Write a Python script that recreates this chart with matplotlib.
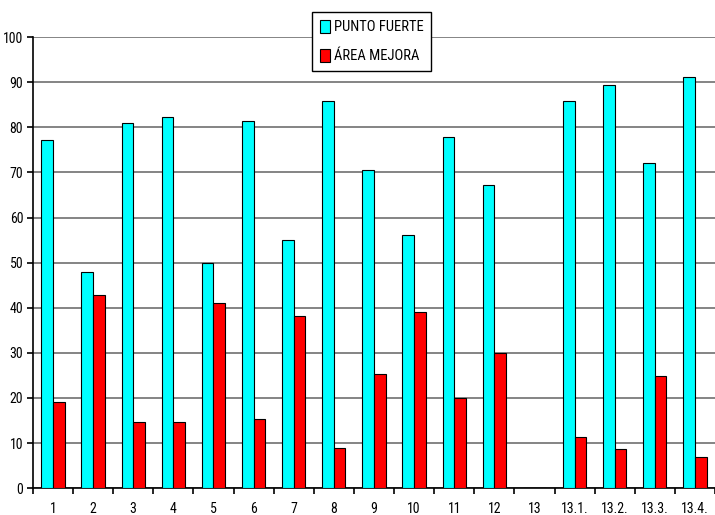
import numpy as np
import matplotlib
matplotlib.use('Agg')
import matplotlib.pyplot as plt

plt.rcParams['font.family'] = ['Roboto Condensed', 'Liberation Sans Narrow', 'Arial Narrow',
                               'Liberation Sans', 'DejaVu Sans']

categories = ['1', '2', '3', '4', '5', '6', '7', '8', '9', '10', '11', '12', '13',
              '13.1.', '13.2.', '13.3.', '13.4.']
punto_fuerte = [77.2, 48, 81, 82.2, 50, 81.3, 55, 85.8, 70.5, 56.2, 77.8, 67.3, 0,
                85.8, 89.3, 72, 91.2]
area_mejora = [19.1, 42.9, 14.6, 14.6, 41, 15.3, 38.1, 8.9, 25.4, 39, 20, 30, 0,
               11.4, 8.8, 24.8, 7]

fig = plt.figure(figsize=(7.15, 5.15), dpi=100)
ax = fig.add_axes([0.046, 0.052, 0.954, 0.876])

x = np.arange(len(categories))
w = 0.29
ax.bar(x - w/2, punto_fuerte, w, color='#00ffff', edgecolor='black', linewidth=0.8,
       label='PUNTO FUERTE', zorder=3)
ax.bar(x + w/2, area_mejora, w, color='#ff0000', edgecolor='black', linewidth=0.8,
       label='ÁREA MEJORA', zorder=3)

ax.set_xlim(-0.5, len(categories) - 0.5)
ax.set_ylim(0, 100)
ax.set_yticks(np.arange(0, 101, 10))
ax.yaxis.grid(True, color='#707070', linewidth=1.2, zorder=0)
ax.set_xticks(np.arange(-0.5, len(categories), 1))
ax.set_xticklabels([])
ax.set_xticks(x, minor=True)
ax.set_xticklabels(categories, minor=True)
ax.tick_params(axis='x', which='minor', length=0, labelsize=10, pad=10)
ax.tick_params(axis='x', which='major', length=4, direction='out', width=1.2)
ax.tick_params(axis='y', length=4, width=1.2, labelsize=10, pad=3)

for s in ['top', 'right']:
    ax.spines[s].set_visible(False)
ax.spines['left'].set_linewidth(1.2)
ax.spines['bottom'].set_linewidth(1.2)

leg = fig.legend(loc='upper left', bbox_to_anchor=(0.437, 0.976), fontsize=10.5,
                 frameon=True, fancybox=False, edgecolor='black', framealpha=1,
                 handlelength=0.7, handleheight=1.0, handletextpad=0.3,
                 borderpad=0.5, labelspacing=1.0, borderaxespad=0)
leg.get_frame().set_linewidth(1.0)

fig.savefig('out.png', dpi=100)
